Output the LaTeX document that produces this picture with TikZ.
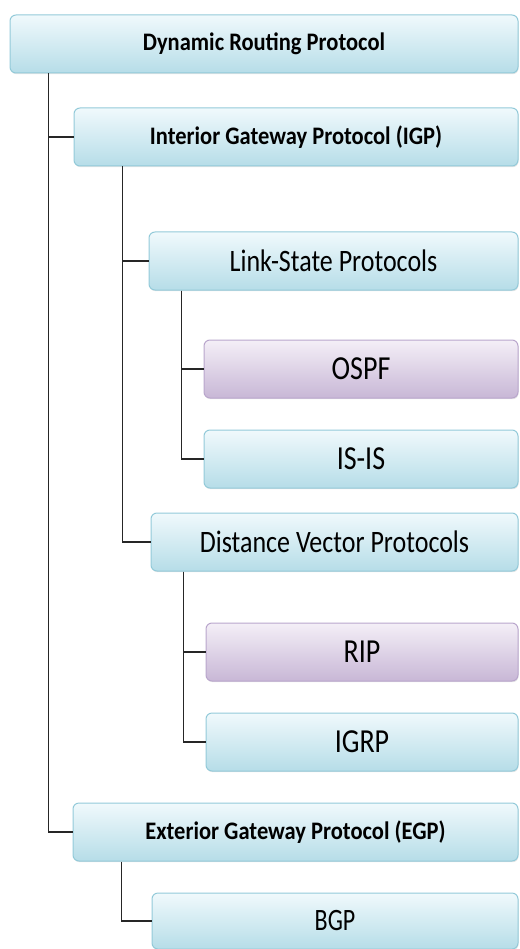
\documentclass[tikz,border=0pt]{standalone}
\usepackage{fontspec}
\setmainfont{Carlito}
\usepackage{graphicx}
\usepackage{tikz}
\usetikzlibrary{shadows}

\definecolor{boxblue}{HTML}{93CAD9}
\definecolor{topblue}{HTML}{F0F9FC}
\definecolor{botblue}{HTML}{B6DDE8}
\definecolor{boxpurple}{HTML}{B9A6CC}
\definecolor{toppurple}{HTML}{F4EFF7}
\definecolor{botpurple}{HTML}{C8B7D6}
\newcommand{\headtext}[1]{\scalebox{1}[1.12]{\fontsize{22.5}{27}\selectfont\bfseries #1}}
\newcommand{\plaintext}[2][26]{\scalebox{1}[1.2]{\fontsize{#1}{31}\selectfont #2}}

\begin{document}
\begin{tikzpicture}[x=1pt, y=-1pt]
    \tikzstyle{box_style} = [rectangle, rounded corners=6pt, draw=boxblue, line width=1pt,
        top color=topblue, bottom color=botblue, minimum height=58pt, inner sep=0pt,
        drop shadow={opacity=0.2, shadow xshift=0.6pt, shadow yshift=-1.2pt}]
    \tikzstyle{box_purple} = [box_style, draw=boxpurple, top color=toppurple, bottom color=botpurple]
    \tikzstyle{tree_edge} = [draw=black!85, line width=1.4pt]
    \useasboundingbox (0,0) rectangle (519,949);

    \node[box_style, minimum width=508pt] (root) at (264,44) {\headtext{Dynamic Routing Protocol}};
    \node[box_style, minimum width=444pt] (igp) at (296,137) {\headtext{Interior Gateway Protocol (IGP)}};
    \node[box_style, minimum width=369pt] (ls) at (333.5,261) {\plaintext{Link-State Protocols}};
    \node[box_purple, minimum width=314pt] (ospf) at (361,369) {\plaintext[28]{OSPF}};
    \node[box_style, minimum width=314pt] (isis) at (361,459) {\plaintext[28]{IS-IS}};
    \node[box_style, minimum width=367pt] (dv) at (334.5,542) {\plaintext{Distance Vector Protocols}};
    \node[box_purple, minimum width=312pt] (rip) at (362,652) {\plaintext[28]{RIP}};
    \node[box_style, minimum width=312pt] (igrp) at (362,742) {\plaintext[28]{IGRP}};
    \node[box_style, minimum width=445pt] (egp) at (295.5,832) {\headtext{Exterior Gateway Protocol (EGP)}};
    \node[box_style, minimum width=366pt, minimum height=56pt] (bgp) at (335,921) {\scalebox{1}[1.08]{\plaintext[24]{BGP}}};

    \draw[tree_edge] ([xshift=39pt]root.south west) |- (igp.west);
    \draw[tree_edge] ([xshift=39pt]root.south west) |- (egp.west);
    \draw[tree_edge] ([xshift=49pt]igp.south west) |- (ls.west);
    \draw[tree_edge] ([xshift=49pt]igp.south west) |- (dv.west);
    \draw[tree_edge] ([xshift=33pt]ls.south west) |- (ospf.west);
    \draw[tree_edge] ([xshift=33pt]ls.south west) |- (isis.west);
    \draw[tree_edge] ([xshift=33pt]dv.south west) |- (rip.west);
    \draw[tree_edge] ([xshift=33pt]dv.south west) |- (igrp.west);
    \draw[tree_edge] ([xshift=49pt]egp.south west) |- (bgp.west);
\end{tikzpicture}
\end{document}
